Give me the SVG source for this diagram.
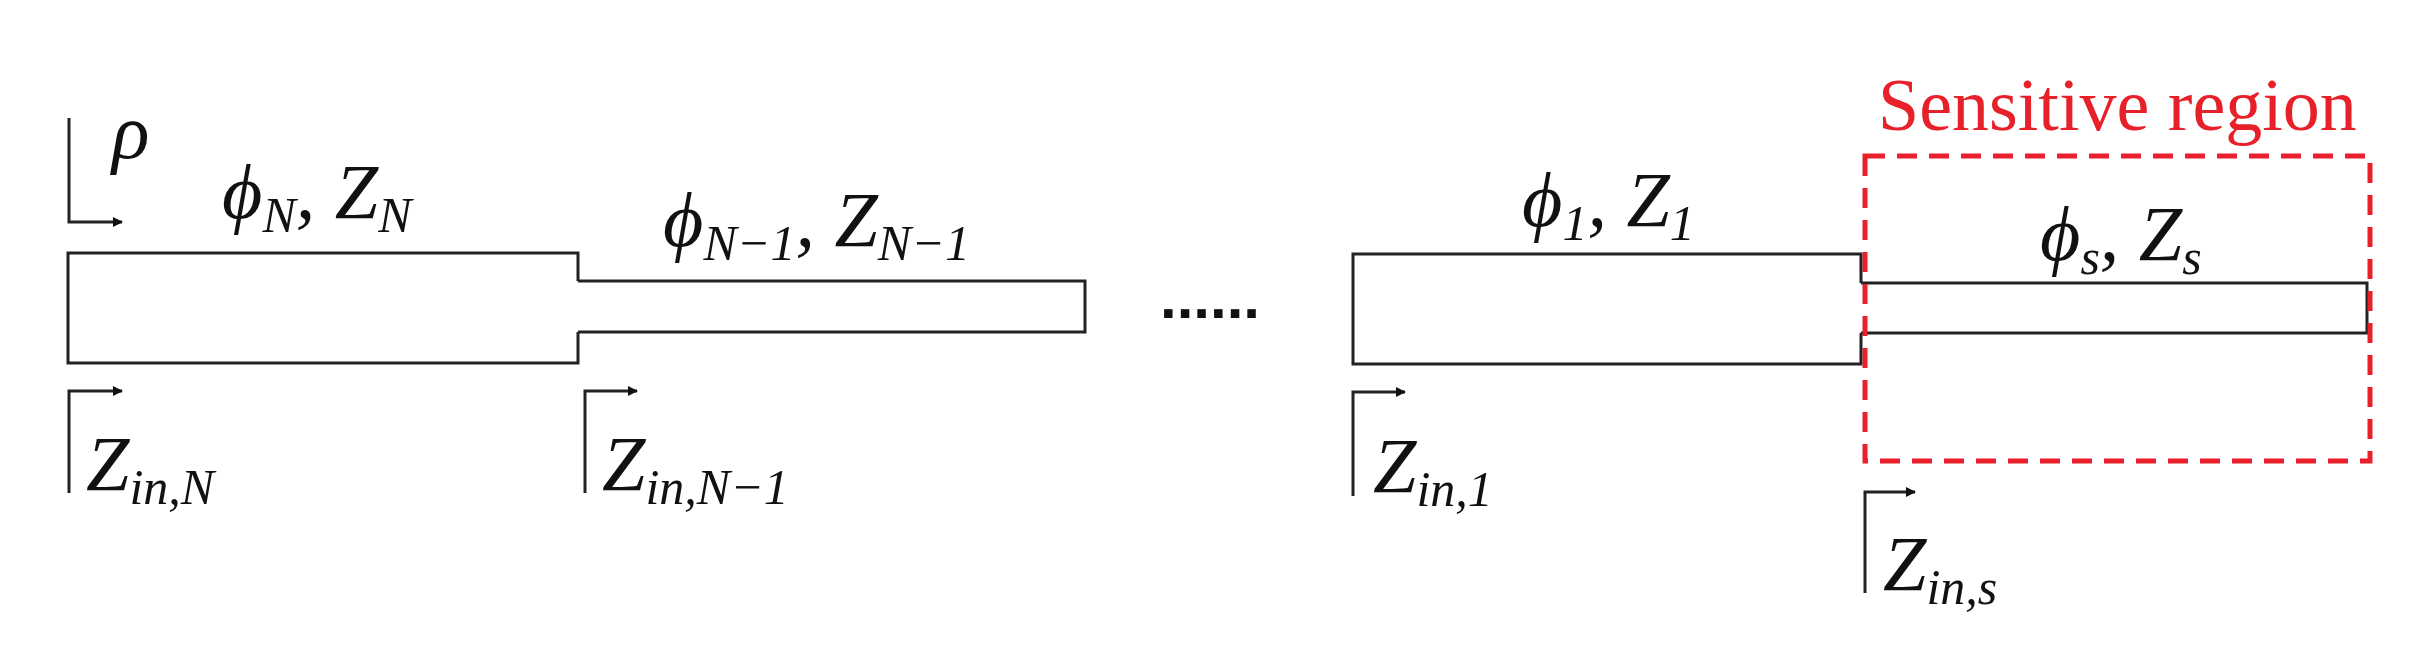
<svg xmlns="http://www.w3.org/2000/svg" width="2429" height="649" viewBox="0 0 2429 649">
<style>
.ln{stroke:#222;stroke-width:3;fill:none}
.m{font-family:"Liberation Serif","Times New Roman","DejaVu Serif",serif;font-style:italic;font-size:78px;fill:#111}
.s{font-size:50px}
.red{font-family:"Liberation Serif","Times New Roman","DejaVu Serif",serif;font-size:74px;fill:#e8202a}
</style>
<defs><marker id="ah" markerWidth="10" markerHeight="10" refX="9" refY="5" orient="auto" markerUnits="userSpaceOnUse"><path d="M0,0 L10,5 L0,10 z" fill="#111"/></marker></defs>
<rect width="2429" height="649" fill="#fff"/>
<g id="lines">
<path class="ln" d="M578,281 V253 H68 V363 H578 V332"/>
<path class="ln" d="M578,281 H598 M578,332 H598 M598,281 H1085 V332 H598"/>
<path class="ln" d="M1861,283 V254 H1353 V364 H1861 V333"/>
<path class="ln" d="M1861,283 H2367 V333 H1861"/>
</g>
<g id="connectors">
<path class="ln" stroke-width="2.5" d="M69,118 V222 H122" marker-end="url(#ah)"/>
<path class="ln" stroke-width="2.5" d="M69,493 V391 H122" marker-end="url(#ah)"/>
<path class="ln" stroke-width="2.5" d="M585,493 V391 H637" marker-end="url(#ah)"/>
<path class="ln" stroke-width="2.5" d="M1353,496 V392 H1405" marker-end="url(#ah)"/>
<path class="ln" stroke-width="2.5" d="M1865,593 V492 H1915" marker-end="url(#ah)"/>
</g>
<g id="sensitive">
<rect x="1865" y="156" width="505" height="305" fill="none" stroke="#e8202a" stroke-width="5" stroke-dasharray="20,12"/>
<text class="red" x="1878" y="130">Sensitive region</text>
</g>
<g id="labels">
<text class="m" x="112" y="158">ρ</text>
<text class="m" x="222" y="218">ϕ<tspan class="s" dy="14">N</tspan><tspan dy="-14">, Z</tspan><tspan class="s" dy="14">N</tspan></text>
<text class="m" x="663" y="246">ϕ<tspan class="s" dy="14">N−1</tspan><tspan dy="-14">, Z</tspan><tspan class="s" dy="14">N−1</tspan></text>
<text class="m" x="1522" y="226">ϕ<tspan class="s" dy="14">1</tspan><tspan dy="-14">, Z</tspan><tspan class="s" dy="14">1</tspan></text>
<text class="m" x="2040" y="260">ϕ<tspan class="s" dy="14">s</tspan><tspan dy="-14">, Z</tspan><tspan class="s" dy="14">s</tspan></text>
<text class="m" x="86" y="490">Z<tspan class="s" dy="14">in,N</tspan></text>
<text class="m" x="602" y="490">Z<tspan class="s" dy="14">in,N−1</tspan></text>
<text class="m" x="1373" y="492">Z<tspan class="s" dy="14">in,1</tspan></text>
<text class="m" x="1883" y="590">Z<tspan class="s" dy="14">in,s</tspan></text>
<text x="1160" y="318" style="font-family:'Liberation Sans',sans-serif;font-size:60px;font-weight:bold;fill:#111">......</text>
</g>
</svg>
